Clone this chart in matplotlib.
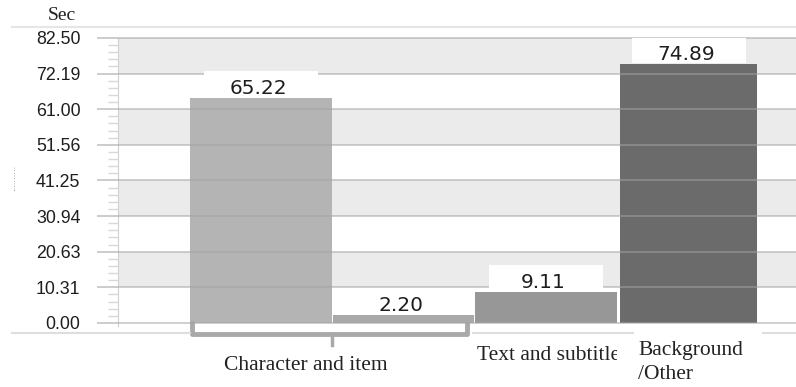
import matplotlib.pyplot as plt
from matplotlib.lines import Line2D
from matplotlib.patches import Rectangle
from matplotlib.transforms import Bbox, TransformedBbox
import numpy as np

# Data
categories = ['Character and item', '', 'Text and subtitle', 'Background\n/Other']
values = [65.22, 2.20, 9.11, 74.89]
value_labels = ['65.22', '2.20', '9.11', '74.89']
bar_colors = ['#b4b4b4', '#a9a9a9', '#979797', '#6b6b6b']
tick_values = [82.5 * i / 8 for i in range(9)]
tick_labels = ['0.00', '10.31', '20.63', '30.94', '41.25', '51.56', '61.00', '72.19', '82.50']

W, H = 796, 387
fig = plt.figure(figsize=(W / 100, H / 100), dpi=100)

def px(x, y):
    # pixel position -> figure fraction
    return x / W, 1 - y / H

ax = fig.add_axes([118 / W, 1 - 333 / H, 1 - 118 / W, (333 - 27) / H])
ax.set_xlim(-1.0035, 3.754)
ax.set_ylim(-2.895, 85.68)

# alternating bands
for lo, hi in zip(tick_values[1::2], tick_values[2::2]):
    ax.axhspan(lo, hi, color='#ebebeb', zorder=0, lw=0)

x = np.arange(len(values))
widths = [0.99, 0.99, 0.99, 0.96]
ax.bar(x, values, width=widths, color=bar_colors, zorder=1)

# value labels on white boxes
for xi, v, lab in zip(x, values, value_labels):
    if v > 5:
        ax.add_patch(Rectangle((xi - 0.4, v + 0.3), 0.8, 7.3, facecolor='white',
                               edgecolor='none', zorder=3))
    ax.text(xi - 0.02, v, lab, ha='center', va='bottom', fontsize=14.5,
            color='#1e1e1e', zorder=4)

# axis styling
ax.set_yticks(tick_values)
ax.set_yticklabels(tick_labels, fontsize=12.8, color='#1e1e1e', family='Liberation Sans')
ax.set_yticks(np.arange(0, 82.6, 82.5 / 40), minor=True)
ax.tick_params(axis='y', which='major', length=15, color='#c4c4c4', width=1.2, pad=12)
ax.tick_params(axis='y', which='minor', length=7, color='#d8d8d8', width=1)
ax.set_xticks([])
ax.yaxis.grid(True, color='#a3a3a3', alpha=0.6, lw=1.2)
ax.set_axisbelow(False)
for s in ['top', 'right', 'bottom']:
    ax.spines[s].set_visible(False)
ax.spines['left'].set_color('#d0d0d0')
ax.spines['left'].set_bounds(-1.0, 82.5)

# bracket under the first group
bx = [-0.484, -0.484, 1.446, 1.446]
by = [0.0, -3.3, -3.3, 0.0]
ax.plot(bx, by, color='#a9a9a9', lw=3.5, solid_joinstyle='round', clip_on=False, zorder=2)
ax.plot([0.498, 0.498], [-3.3, -6.5], color='#a9a9a9', lw=2.5, clip_on=False, zorder=2)

# frame lines
fig.add_artist(Line2D([12 / W, 1], [1 - 27 / H] * 2, color='#e6e6e6', lw=1.5))
for x0, x1 in [(12, 190), (473, 633), (763, 796)]:
    fig.add_artist(Line2D([x0 / W, x1 / W], [1 - 333 / H] * 2, color='#dedede', lw=1.5))

# texts
fig.text(*px(62, 16), 'Sec', ha='center', va='center', fontsize=14,
         family='Liberation Serif', color='#222222')
fig.text(*px(13, 178), '.' * 10, ha='center', va='center', rotation=90,
         fontsize=6, color='#777777')
fig.text(*px(306, 366), categories[0], ha='center', va='center', fontsize=15.5,
         family='Liberation Serif', color='#222222')
t = fig.text(*px(549, 355), categories[2], ha='center', va='center', fontsize=15.5,
             family='Liberation Serif', color='#222222')
t.set_clip_box(TransformedBbox(Bbox([[0, 0], [617 / W, 1]]), fig.transFigure))
t.set_clip_on(True)
fig.text(*px(638, 341), categories[3], ha='left', va='top', fontsize=15.5,
         family='Liberation Serif', color='#222222', linespacing=1.35)

fig.savefig('out.png', dpi=100)
